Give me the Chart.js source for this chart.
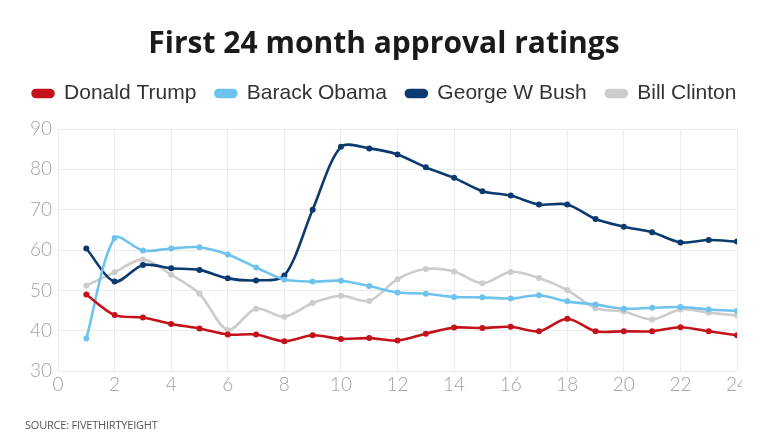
<!DOCTYPE html>
<html>
<head>
<meta charset="utf-8">
<script src="https://cdn.jsdelivr.net/npm/chart.js@4.4.1/dist/chart.umd.min.js"></script>
<style>
  html, body { margin: 0; padding: 0; background: #fff; }
  #wrap { position: relative; width: 742px; height: 432px; overflow: hidden; }
  #source { position: absolute; left: 25px; top: 417px; font-family: "Open Sans", sans-serif; font-size: 11px; color: #555; letter-spacing: -0.2px; }
</style>
</head>
<body>
<div id="wrap">
  <canvas id="c" width="768" height="432"></canvas>
  <div id="source">SOURCE: FIVETHIRTYEIGHT</div>
</div>
<script>
const months = [1,2,3,4,5,6,7,8,9,10,11,12,13,14,15,16,17,18,19,20,21,22,23,24];
const trump   = [49, 43.9, 43.3, 41.7, 40.6, 39.1, 39.1, 37.4, 38.9, 38.0, 38.2, 37.6, 39.3, 40.8, 40.7, 41.0, 39.9, 43.0, 39.9, 39.9, 39.9, 40.9, 39.9, 38.9];
const obama   = [38.1, 63.0, 59.9, 60.4, 60.7, 58.9, 55.7, 52.7, 52.2, 52.4, 51.1, 49.5, 49.2, 48.4, 48.3, 48.0, 48.8, 47.3, 46.5, 45.5, 45.7, 45.9, 45.3, 44.9];
const bush    = [60.4, 52.2, 56.3, 55.5, 55.1, 53.0, 52.5, 53.7, 70.0, 85.6, 85.2, 83.7, 80.5, 77.9, 74.6, 73.5, 71.3, 71.3, 67.7, 65.8, 64.4, 61.9, 62.5, 62.1];
const clinton = [51.2, 54.5, 57.7, 53.9, 49.2, 40.2, 45.5, 43.5, 46.9, 48.7, 47.4, 52.8, 55.3, 54.7, 51.8, 54.6, 53.1, 50.1, 45.6, 44.8, 42.8, 45.3, 44.5, 43.8];
const names = ["Donald Trump", "Barack Obama", "George W Bush", "Bill Clinton"];
const colors = ["#c4121a", "#6ec3ee", "#0b3a6f", "#cccccc"];
const series = [trump, obama, bush, clinton];

const datasets = series.map((vals, i) => ({
  label: names[i],
  data: vals.map((v, j) => ({ x: months[j], y: v })),
  borderColor: colors[i],
  backgroundColor: colors[i],
  borderWidth: 2.6,
  pointRadius: 3,
  pointHoverRadius: 3,
  pointBorderWidth: 0,
  tension: 0.3,
  fill: false
}));

const tickFont = { family: "Lato, 'Open Sans', sans-serif", size: 19, weight: 300 };

function widenDraw(box, left, right) {
  const origDraw = box.draw;
  box.draw = function () {
    const l = this.left, r = this.right;
    this.left = left; this.right = right;
    origDraw.apply(this, arguments);
    this.left = l; this.right = r;
  };
}

const headerLayout = {
  id: 'headerLayout',
  beforeInit(chart) {
    const legend = chart.legend;
    const origFit = legend.fit;
    legend.fit = function () {
      const mw = this.maxWidth;
      this.maxWidth = 800;
      origFit.call(this);
      this.maxWidth = mw;
      this.width = mw;
      this.height += 15;
    };
    widenDraw(legend, 0, 769);
    if (chart.titleBlock) widenDraw(chart.titleBlock, 0, 768);
  }
};

new Chart(document.getElementById('c'), {
  type: 'line',
  data: { datasets },
  plugins: [headerLayout],
  options: {
    responsive: false,
    animation: false,
    events: [],
    layout: { padding: { left: 24, right: 31, top: 26, bottom: 34 } },
    plugins: {
      title: {
        display: true,
        text: "First 24 month approval ratings",
        color: "#1a1a1a",
        font: { family: "'Open Sans', sans-serif", size: 30, weight: 'bold' },
        padding: { top: 0, bottom: 2 }
      },
      legend: {
        display: true,
        labels: {
          color: "#333",
          font: { family: "'Liberation Sans', Arial, sans-serif", size: 21 },
          boxWidth: 21,
          boxHeight: 7,
          useBorderRadius: true,
          borderRadius: 3.5,
          padding: 19
        }
      },
      tooltip: { enabled: false }
    },
    scales: {
      x: {
        type: 'linear',
        min: 0, max: 24,
        ticks: { stepSize: 2, color: "#a3a3a3", font: tickFont, padding: 2 },
        grid: { color: "#ececec", drawTicks: false },
        border: { color: "#ececec" }
      },
      y: {
        min: 30, max: 90,
        ticks: {
          stepSize: 5, color: "#a3a3a3", font: tickFont, padding: 6,
          callback: v => (v % 10 === 0 ? v : '')
        },
        grid: { color: "#ececec", drawTicks: false },
        border: { color: "#ececec" }
      }
    }
  }
});
</script>
</body>
</html>
